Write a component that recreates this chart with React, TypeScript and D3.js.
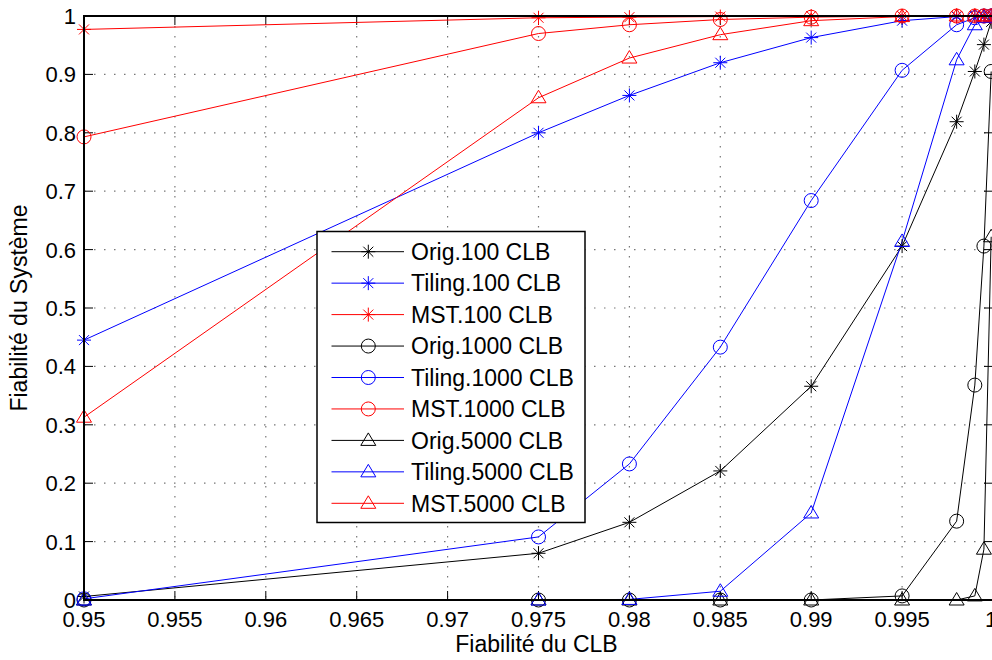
import React from "react";
import * as d3 from "d3";

const xValues = [0.95, 0.975, 0.98, 0.985, 0.99, 0.995, 0.998, 0.999, 0.9995, 0.9999];

const orig100 = [0.006, 0.080, 0.133, 0.221, 0.366, 0.606, 0.819, 0.905, 0.951, 0.990];
const tiling100 = [0.445, 0.800, 0.864, 0.920, 0.963, 0.992, 0.999, 1.0, 1.0, 1.0];
const mst100 = [0.977, 0.997, 0.998, 0.999, 1.0, 1.0, 1.0, 1.0, 1.0, 1.0];
const orig1000 = [0.0, 0.0, 0.0, 0.0, 0.0, 0.007, 0.135, 0.368, 0.606, 0.905];
const tiling1000 = [0.002, 0.108, 0.233, 0.433, 0.684, 0.907, 0.985, 0.997, 1.0, 1.0];
const mst1000 = [0.793, 0.970, 0.985, 0.994, 0.998, 1.0, 1.0, 1.0, 1.0, 1.0];
const orig5000 = [0.0, 0.0, 0.0, 0.0, 0.0, 0.0, 0.0, 0.007, 0.087, 0.622];
const tiling5000 = [0.0, 0.0, 0.001, 0.015, 0.149, 0.614, 0.925, 0.985, 0.998, 1.0];
const mst5000 = [0.313, 0.860, 0.928, 0.968, 0.992, 0.999, 1.0, 1.0, 1.0, 1.0];

const seriesNames = [
  "Orig.100 CLB", "Tiling.100 CLB", "MST.100 CLB",
  "Orig.1000 CLB", "Tiling.1000 CLB", "MST.1000 CLB",
  "Orig.5000 CLB", "Tiling.5000 CLB", "MST.5000 CLB",
];
const seriesValues = [orig100, tiling100, mst100, orig1000, tiling1000, mst1000, orig5000, tiling5000, mst5000];
const seriesColors = ["#000000", "#0000ff", "#ff0000", "#000000", "#0000ff", "#ff0000", "#000000", "#0000ff", "#ff0000"];
const seriesMarkers = ["star", "star", "star", "circle", "circle", "circle", "triangle", "triangle", "triangle"];

const xTicks = [0.95, 0.955, 0.96, 0.965, 0.97, 0.975, 0.98, 0.985, 0.99, 0.995, 1];
const yTicks = [0, 0.1, 0.2, 0.3, 0.4, 0.5, 0.6, 0.7, 0.8, 0.9, 1];

const W = 992, H = 660;
const L = 84, R = 993, T = 16, B = 600;
const FONT = "'Liberation Sans', Arial, Helvetica, sans-serif";

function Marker({ type, x, y, color }: { type: string; x: number; y: number; color: string }) {
  if (type === "circle") return <circle cx={x} cy={y} r={7} fill="none" stroke={color} strokeWidth={1} />;
  if (type === "triangle") {
    const p = `${x},${y - 7.5} ${x + 7.5},${y + 5} ${x - 7.5},${y + 5}`;
    return <polygon points={p} fill="none" stroke={color} strokeWidth={1} />;
  }
  const s = 7, a = 5;
  const d = `M${x - s},${y}L${x + s},${y}M${x},${y - s}L${x},${y + s}M${x - a},${y - a}L${x + a},${y + a}M${x - a},${y + a}L${x + a},${y - a}`;
  return <path d={d} stroke={color} strokeWidth={1} fill="none" />;
}

export default function App() {
  const x = d3.scaleLinear().domain([0.95, 1]).range([L, R]);
  const y = d3.scaleLinear().domain([0, 1]).range([B, T]);
  const line = d3.line<number>().x((_, i) => x(xValues[i])).y((d) => y(d));
  const fmt = (v: number) => (v === 0 ? "0" : v === 1 ? "1" : String(+v.toFixed(3)));

  const legX = 317, legY = 231.5, legW = 268, legH = 291;
  const rowY0 = 251.7, rowStep = 31.45;

  return (
    <svg width={W} height={H} style={{ position: "absolute", left: 0, top: 0, display: "block", background: "#fff" }}
      fontFamily={FONT}>
      <rect x={0} y={0} width={W} height={H} fill="#fff" />
      <defs>
        <clipPath id="plotclip">
          <rect x={L} y={T} width={R - L} height={B - T} />
        </clipPath>
      </defs>
      {/* grid */}
      {xTicks.map((t) => (
        <line key={"gx" + t} x1={x(t)} x2={x(t)} y1={T} y2={B} stroke="#777" strokeWidth={1.2} strokeDasharray="1.5,8.5" />
      ))}
      {yTicks.map((t) => (
        <line key={"gy" + t} x1={L} x2={R} y1={y(t)} y2={y(t)} stroke="#777" strokeWidth={1.2} strokeDasharray="1.5,8.5" />
      ))}
      {/* ticks */}
      {xTicks.map((t) => (
        <g key={"tx" + t}>
          <line x1={x(t)} x2={x(t)} y1={B} y2={B - 9} stroke="#000" strokeWidth={1} />
          <line x1={x(t)} x2={x(t)} y1={T} y2={T + 9} stroke="#000" strokeWidth={1} />
          <text x={t === 1 ? x(t) - 2 : x(t)} y={627} textAnchor="middle" fontSize={22}>{fmt(t)}</text>
        </g>
      ))}
      {yTicks.map((t) => (
        <g key={"ty" + t}>
          <line x1={L} x2={L + 9} y1={y(t)} y2={y(t)} stroke="#000" strokeWidth={1} />
          <line x1={R} x2={R - 9} y1={y(t)} y2={y(t)} stroke="#000" strokeWidth={1} />
          <text x={76} y={y(t)} dy="0.36em" textAnchor="end" fontSize={22}>{fmt(t)}</text>
        </g>
      ))}
      {/* series lines */}
      <g clipPath="url(#plotclip)">
        {seriesValues.map((vals, si) => (
          <path key={"l" + si} d={line(vals) || ""} fill="none" stroke={seriesColors[si]} strokeWidth={1} />
        ))}
      </g>
      {/* markers */}
      {seriesValues.map((vals, si) => (
        <g key={"m" + si}>
          {vals.map((v, i) => (
            <Marker key={i} type={seriesMarkers[si]} x={x(xValues[i])} y={y(v)} color={seriesColors[si]} />
          ))}
        </g>
      ))}
      {/* axes box */}
      <rect x={L} y={T} width={R - L} height={B - T} fill="none" stroke="#000" strokeWidth={2} />
      {/* axis labels */}
      <text x={(L + R) / 2 - 2} y={652} textAnchor="middle" fontSize={23}>Fiabilité du CLB</text>
      <text transform={`translate(27,${(T + B) / 2}) rotate(-90)`} textAnchor="middle" fontSize={23}>Fiabilité du Système</text>
      {/* legend */}
      <rect x={legX} y={legY} width={legW} height={legH} fill="#fff" stroke="#000" strokeWidth={1.5} />
      {seriesNames.map((name, i) => {
        const ry = rowY0 + i * rowStep;
        return (
          <g key={"lg" + i}>
            <line x1={331.5} x2={404} y1={ry} y2={ry} stroke={seriesColors[i]} strokeWidth={1} />
            <Marker type={seriesMarkers[i]} x={368.3} y={ry} color={seriesColors[i]} />
            <text x={411} y={ry} dy="0.36em" fontSize={23}>{name}</text>
          </g>
        );
      })}
    </svg>
  );
}
